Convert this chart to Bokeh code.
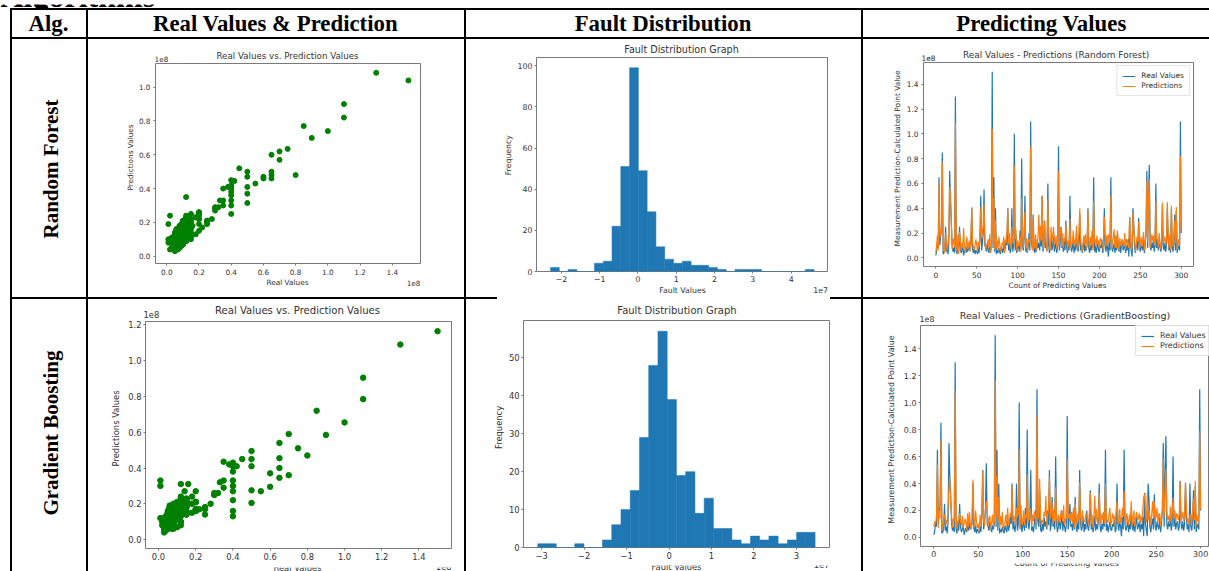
import numpy as np
from bokeh.plotting import figure
from bokeh.models import Range1d, FixedTicker, PrintfTickFormatter, Spacer, LinearAxis
from bokeh.layouts import row, column
from bokeh.core.properties import value
from bokeh.embed import file_html
from bokeh.resources import INLINE

# ---------------- texts ----------------
section_title = "Algorithms"
header_titles = ["Alg.", "Real Values & Prediction", "Fault Distribution", "Predicting Values"]
algorithm_names = ["Random Forest", "Gradient Boosting"]
scatter_title = "Real Values vs. Prediction Values"
hist_title = "Fault Distribution Graph"
line_titles = ["Real Values -  Predictions (Random Forest)",
               "Real Values -  Predictions (GradientBoosting)"]

# ---------------- data (units of 1e6) ----------------
real_values_1e6 = [
    2, 5, 12, 8, 65, 10, 18, 25, 85, 3,
    4, 6, 25, 5, 8, 3, 12, 70, 45, 30,
    10, 5, 8, 4, 130, 6, 3, 12, 5, 25,
    8, 4, 6, 10, 2, 5, 7, 4, 9, 5,
    12, 6, 8, 10, 40, 7, 4, 9, 3, 6,
    5, 3, 8, 4, 18, 50, 6, 12, 20, 55,
    10, 8, 5, 12, 7, 4, 9, 6, 10, 150,
    8, 65, 5, 40, 3, 6, 4, 8, 5, 3,
    9, 6, 4, 12, 5, 8, 15, 10, 40, 6,
    12, 4, 8, 40, 5, 10, 100, 6, 18, 4,
    8, 12, 5, 22, 7, 80, 10, 6, 15, 50,
    5, 8, 4, 10, 20, 6, 110, 12, 8, 35,
    6, 4, 10, 5, 15, 8, 12, 6, 20, 9,
    50, 5, 10, 30, 8, 12, 6, 60, 10, 4,
    8, 15, 6, 10, 20, 5, 12, 8, 4, 10,
    90, 6, 12, 25, 8, 10, 5, 15, 6, 30,
    8, 4, 12, 6, 50, 10, 5, 8, 15, 4,
    10, 6, 20, 8, 5, 12, 35, 6, 10, 4,
    8, 16, 5, 10, 6, 12, 40, 8, 4, 10,
    6, 15, 8, 65, 5, 10, 4, 8, 12, 6,
    5, 10, 8, 15, 4, 6, 40, 10, 5, 12,
    8, 1, 15, 6, 65, 10, 5, 8, 12, 4,
    10, 6, 20, 8, 5, 12, 4, 10, 15, 6,
    8, 12, 4, 10, 6, 15, 1, 33, 10, 5,
    1, 40, 28, 8, 4, 10, 14, 6, 32, 8,
    5, 12, 8, 6, 15, 4, 10, 20, 70, 8,
    50, 75, 10, 6, 12, 8, 15, 5, 10, 60,
    8, 15, 6, 10, 12, 5, 8, 42, 10, 6,
    12, 5, 10, 40, 15, 6, 10, 4, 40, 8,
    5, 12, 35, 6, 38, 4, 10, 8, 6, 110,
    20]

rf_predictions_1e6 = [
    4, 10, 18, 6, 60, 16, 23, 19, 77, 8,
    9, 4, 20, 13, 6, 11, 21, 57, 52, 28,
    7, 12, 16, 9, 108.5, 14, 5, 19, 3, 21,
    15, 6, 12, 8, 24, 11, 4, 10, 17, 7,
    9, 14, 5, 18, 41, 13, 8, 6, 10, 15,
    11, 5, 13, 9, 13, 41, 16, 22, 24, 43,
    16, 6, 10, 11, 15, 9, 19, 4, 8, 104,
    13, 48, 7, 30, 8, 14, 6, 17, 12, 5,
    7, 12, 10, 17, 4, 15, 12, 20, 40, 11,
    20, 9, 7, 25, 13, 11, 74, 15, 23, 6,
    14, 9, 11, 17, 5, 48, 18, 8, 20, 37,
    9, 16, 5, 14, 15, 12, 90, 22, 6, 33,
    13, 8, 19, 6, 12, 17, 35, 11, 26, 14,
    50, 12, 7, 29, 16, 10, 5, 47, 21, 9,
    6, 25, 14, 17, 25, 10, 13, 18, 7, 12,
    70, 11, 24, 21, 9, 20, 8, 16, 13, 27,
    17, 6, 14, 10, 31.5, 8, 13, 12, 22, 9,
    15, 12, 26, 7, 10, 21, 40, 16, 9, 5,
    12, 18, 11, 19, 7, 10, 38, 14, 8, 17,
    10, 22, 6, 46, 12, 15, 9, 18, 11, 14,
    7, 16, 13, 12, 10, 5, 33, 21, 9, 18,
    10, 19, 17, 12, 50, 7, 14, 16, 23, 8,
    18, 8, 22, 13, 6, 16, 11, 9, 14, 12,
    9, 20, 7, 15, 13, 10, 8, 33, 18, 6,
    10, 36, 22, 16, 5, 11, 17, 13, 29, 7,
    12, 17, 9, 15, 21, 6, 14, 19, 62, 13,
    47, 63.5, 8, 11, 19, 14, 18, 10, 16, 46,
    15, 13, 9, 20, 11, 7, 16, 44.5, 12, 14,
    17, 10, 14, 45, 20, 8, 19, 6, 42, 13,
    9, 16, 30, 12, 41, 7, 11, 15, 10, 82,
    22]

gb_predictions_1e6 = [
    8, 12, 10, 16, 54, 7, 20, 14, 72, 11,
    6, 15, 17, 10, 13, 9, 22, 36, 45, 25,
    16, 7, 14, 12, 109, 18, 6, 10, 13, 18,
    12, 9, 16, 7, 10, 14, 11, 5, 18, 8,
    19, 10, 6, 15, 43, 13, 8, 20, 12, 7,
    10, 4, 17, 9, 15, 49.5, 13, 8, 21, 27,
    20, 9, 14, 16, 6, 11, 17, 8, 12, 116.5,
    14, 45.5, 11, 30, 7, 16, 9, 19, 6, 10,
    11, 17, 8, 22, 9, 13, 18, 15, 38, 12,
    16, 13, 9, 22, 15, 18, 65.5, 7, 24, 10,
    12, 20, 9, 17, 14, 47, 11, 16, 21, 20.5,
    8, 17, 12, 19, 16, 10, 90.5, 23, 14, 43.5,
    15, 9, 13, 11, 19, 16, 31, 8, 17, 20,
    45, 14, 18, 26, 10, 21, 12, 37, 15, 9,
    17, 14, 11, 20, 17, 12, 24, 9, 13, 15,
    58.5, 16, 14, 18, 12, 19, 11, 22, 7, 25,
    15, 10, 18, 13, 41, 16, 8, 20, 14, 12,
    12, 18, 16, 13, 9, 20, 33, 11, 17, 7,
    16, 31, 12, 21, 9, 15, 33, 13, 10, 18,
    13, 19, 10, 40, 15, 12, 11, 17, 22, 9,
    12, 18, 14, 16, 8, 19, 27, 13, 10, 21,
    11, 12, 22, 16, 34.5, 14, 10, 18, 13, 9,
    17, 12, 27, 9, 14, 20, 8, 15, 19, 13,
    14, 18, 10, 16, 12, 21, 30, 32, 20, 11,
    33, 13, 20, 15, 9, 17, 27, 14, 26, 12,
    16, 22, 11, 17, 18, 8, 14, 21, 59, 15,
    27.5, 51, 19, 13, 16, 10, 23, 12, 18, 29.5,
    14, 20, 11, 18, 16, 13, 17, 41, 12, 15,
    19, 12, 16, 41, 22, 11, 14, 9, 16, 17,
    10, 20, 29, 13, 42, 8, 17, 12, 16, 78.5,
    21]

# fault histograms (counts per bin, bins spread evenly between min and max, units of 1e7)
rf_fault_counts = [2, 0, 1, 0, 0, 4, 5, 22, 51, 99, 49, 29, 12, 6, 4,
                   5, 3, 3, 2, 1, 0, 1, 1, 1, 0, 0, 0, 0, 0, 1]
rf_fault_min_max_1e7 = [-2.284, 4.60]
gb_fault_counts = [1, 1, 0, 0, 1, 0, 0, 2, 6, 10, 15, 29, 48, 57, 39,
                   19, 20, 9, 13, 5, 5, 2, 1, 3, 2, 3, 1, 2, 4, 4]
gb_fault_min_max_1e7 = [-3.094, 3.441]

# ticks
scatter_x_ticks = [0.0, 0.2, 0.4, 0.6, 0.8, 1.0, 1.2, 1.4]
rf_scatter_y_ticks = [0.0, 0.2, 0.4, 0.6, 0.8, 1.0]
gb_scatter_y_ticks = [0.0, 0.2, 0.4, 0.6, 0.8, 1.0, 1.2]
rf_hist_x_ticks = [-2, -1, 0, 1, 2, 3, 4]
rf_hist_x_labels = ["\u22122", "\u22121", "0", "1", "2", "3", "4"]
rf_hist_y_ticks = [0, 20, 40, 60, 80, 100]
gb_hist_x_ticks = [-3, -2, -1, 0, 1, 2, 3]
gb_hist_x_labels = ["\u22123", "\u22122", "\u22121", "0", "1", "2", "3"]
gb_hist_y_ticks = [0, 10, 20, 30, 40, 50]
line_x_ticks = [0, 50, 100, 150, 200, 250, 300]
line_y_ticks = [0.0, 0.2, 0.4, 0.6, 0.8, 1.0, 1.2, 1.4]

# ---------------- styling ----------------
FONT = "DejaVu Sans"
SERIF = "Liberation Serif"
AX = "#7a7a7a"
TXT = "#333333"
BLUE = "#1f77b4"
ORANGE = "#ff7f0e"
BLACK = {"background-color": "black"}
SMALL_STRIP_LIFT = 5  # very short text panels draw their texts a little low

n = min(len(real_values_1e6), len(rf_predictions_1e6), len(gb_predictions_1e6))
real_1e8 = np.array(real_values_1e6[:n], dtype=float) / 100.0
rf_1e8 = np.array(rf_predictions_1e6[:n], dtype=float) / 100.0
gb_1e8 = np.array(gb_predictions_1e6[:n], dtype=float) / 100.0
idx = np.arange(n)


def T(text, x, y, size, align="center", angle=0.0, font=FONT, style="normal", color=TXT):
    """A text placed by its centre-line anchor, given in page pixels."""
    return dict(text=text, x=x, y=y, size=size, align=align, angle=angle,
                font=font, style=style, color=color)


def strip(x0, y0, w, h, texts):
    """A plain white panel (page rect x0,y0,w,h) holding some texts."""
    if w <= 0 or h <= 0:
        return None
    if not texts:
        return Spacer(width=w, height=h)
    p = figure(width=w, height=h, x_range=Range1d(0, w), y_range=Range1d(0, h),
               output_backend="svg", toolbar_location=None,
               x_axis_type=None, y_axis_type=None, min_border=0)
    p.outline_line_color = None
    p.background_fill_color = "white"
    p.border_fill_color = "white"
    lift = SMALL_STRIP_LIFT if h < 12 else 0
    for t in texts:
        p.text(x=[t["x"] - x0], y=[(y0 + h) - t["y"] + lift], text=[t["text"]],
               text_font=value(t["font"]), text_font_size=value(f"{t['size']}px"),
               text_font_style=t["style"], text_align=t["align"], text_baseline="middle",
               angle=t["angle"], text_color=t["color"])
    return p


def chart(w, h, lft, rgt, top, bot, xr, yr, xticks, yticks, tick_px,
          xfmt=None, yfmt=None, xover=None, label_standoff=3):
    p = figure(width=w, height=h, x_range=Range1d(*xr), y_range=Range1d(*yr),
               output_backend="svg", toolbar_location=None,
               min_border_left=lft, min_border_right=rgt,
               min_border_top=top, min_border_bottom=bot)
    p.xgrid.visible = False
    p.ygrid.visible = False
    p.outline_line_color = AX
    p.outline_line_width = 1
    p.background_fill_color = "white"
    p.border_fill_color = "white"
    for ax in (p.xaxis[0], p.yaxis[0]):
        ax.axis_line_color = None
        ax.major_tick_line_color = AX
        ax.major_tick_out = 2
        ax.major_tick_in = 0
        ax.minor_tick_line_color = None
        ax.major_label_text_font = FONT
        ax.major_label_text_font_size = f"{tick_px}px"
        ax.major_label_text_color = TXT
        ax.major_label_standoff = label_standoff
    p.xaxis[0].ticker = FixedTicker(ticks=xticks)
    p.yaxis[0].ticker = FixedTicker(ticks=yticks)
    if xfmt:
        p.xaxis[0].formatter = PrintfTickFormatter(format=xfmt)
    if yfmt:
        p.yaxis[0].formatter = PrintfTickFormatter(format=yfmt)
    if xover:
        p.xaxis[0].major_label_overrides = xover
    return p


def cell(cell_rect, frame_rect, borders, build, top_texts, left_texts, bottom_texts):
    """Compose a table cell: text strips around a chart whose frame sits at frame_rect."""
    cx, cy, cw, ch = cell_rect
    fx, fy, fw, fh = frame_rect
    Lc, Rc, Tc, Bc = borders
    fl, ft = fx - cx, fy - cy
    mid_h = Tc + fh + Bc
    p = build(Lc + fw + Rc, mid_h, Lc, Rc, Tc, Bc)
    top = strip(cx, cy, cw, ft - Tc, top_texts)
    left = strip(cx, cy + ft - Tc, fl - Lc, mid_h, left_texts)
    right = strip(fx + fw + Rc, cy + ft - Tc, cw - fl - fw - Rc, mid_h, [])
    bottom = strip(cx, cy + ft + fh + Bc, cw, ch - ft - fh - Bc, bottom_texts)
    mid = row(*[m for m in (left, p, right) if m is not None])
    return column(*[m for m in (top, mid, bottom) if m is not None])


# ---------------- chart builders ----------------
def scatter_builder(yr, yticks, preds, tick_px, dot, standoff):
    def build(w, h, l, r, t, b):
        p = chart(w, h, l, r, t, b, (-0.07, 1.575), yr, scatter_x_ticks, yticks, tick_px,
                  xfmt="%.1f", yfmt="%.1f", label_standoff=standoff)
        p.scatter(real_1e8, preds, size=dot, color="green", marker="circle")
        return p
    return build


def hist_builder(xr, yr, counts, mm, xticks, xlabels, yticks, tick_px, standoff,
                 under=None, frame_x=None):
    def build(w, h, l, r, t, b):
        over = {tk: lb for tk, lb in zip(xticks, xlabels)}
        p = chart(w, h, l, r, t, b, xr, yr, xticks, yticks, tick_px, xover=over,
                  label_standoff=standoff)
        edges = np.linspace(mm[0], mm[1], len(counts) + 1)
        p.quad(left=edges[:-1], right=edges[1:], bottom=0, top=counts,
               fill_color=BLUE, line_color=BLUE, line_width=0.5)
        if under:
            # x-axis caption row ("Fault Values" and the 1e7 offset) drawn as a second, bare axis
            fx0, fw = frame_x
            scale = (xr[1] - xr[0]) / fw
            pos = [xr[0] + (px - fx0) * scale for _, px in under]
            ax2 = LinearAxis(ticker=FixedTicker(ticks=pos),
                             major_label_overrides={ps: tx for ps, (tx, _) in zip(pos, under)},
                             axis_line_color=None, major_tick_line_color=None,
                             minor_tick_line_color=None, major_tick_out=0, major_tick_in=0,
                             major_label_standoff=1, major_label_text_font=FONT,
                             major_label_text_font_size=f"{tick_px}px",
                             major_label_text_color=TXT)
            p.add_layout(ax2, "below")
        return p
    return build


def line_builder(xr, yr, preds, tick_px, legend_loc, standoff):
    def build(w, h, l, r, t, b):
        p = chart(w, h, l, r, t, b, xr, yr, line_x_ticks, line_y_ticks, tick_px,
                  yfmt="%.1f", label_standoff=standoff)
        p.line(idx, real_1e8, color=BLUE, line_width=1.2, legend_label="Real Values")
        p.line(idx, preds, color=ORANGE, line_width=1.2, legend_label="Predictions")
        lg = p.legend[0]
        lg.location = legend_loc
        lg.margin = 3
        lg.padding = 5
        lg.spacing = 1
        lg.glyph_width = 13
        lg.glyph_height = 8
        lg.label_height = 8
        lg.label_width = 10
        lg.label_standoff = 6
        lg.label_text_font = FONT
        lg.label_text_font_size = f"{tick_px}px"
        lg.label_text_color = TXT
        lg.border_line_color = "#cccccc"
        lg.background_fill_alpha = 0.8
        return p
    return build


YLAB = "Measurement Prediction-Calculated Point Value"
R90 = np.pi / 2

# row 1
sc1 = cell((88, 39, 376, 258), (154, 63, 266, 200), (19, 1, 1, 14),
           scatter_builder((-0.043, 1.140), rf_scatter_y_ticks, rf_1e8, 7.3, 5, 3),
           [T(scatter_title, 287, 55, 8.7), T("1e8", 154, 58, 7.3, align="left")],
           [T("Predictions Values", 130, 163, 7.3, angle=R90)],
           [T("Real Values", 287, 282, 7.3), T("1e8", 420, 282, 7.3, align="right")])

hi1 = cell((466, 39, 395, 258), (534, 57, 293, 217), (20, 1, 1, 23),
           hist_builder((-2.65, 4.95), (0, 104), rf_fault_counts, rf_fault_min_max_1e7,
                        rf_hist_x_ticks, rf_hist_x_labels, rf_hist_y_ticks, 7.8, 2,
                        under=[("Fault Values", 681), ("1e7", 820)], frame_x=(534, 293)),
           [T(hist_title, 681, 48.7, 9.6)],
           [T("Frequency", 508, 166, 7.8, angle=R90)],
           [])

ln1 = cell((863, 39, 346, 258), (921, 62, 272, 204), (18, 1, 1, 14),
           line_builder((-15, 315), (-0.07, 1.575), rf_1e8, 7.45, "top_right", 3),
           [T(line_titles[0], 1057, 54, 8.95), T("1e8", 921, 57, 7.45, align="left")],
           [T(YLAB, 896.7, 164, 7.45, angle=R90)],
           [T("Count of Predicting Values", 1057, 284.7, 7.45)])

# row 2 (their x captions run off the bottom of the page, as in the source)
sc2 = cell((88, 299, 376, 272), (143, 321, 308, 227), (18, 1, 1, 15),
           scatter_builder((-0.05, 1.219), gb_scatter_y_ticks, gb_1e8, 8.4, 5.5, 2),
           [T(scatter_title, 297, 310, 10.1), T("1e8", 143, 314, 8.4, align="left")],
           [T("Predictions Values", 115, 434.5, 8.4, angle=R90)],
           [T("Real Values", 297, 568.7, 8.4), T("1e8", 451, 567, 8.4, align="right")])

hi2 = cell((466, 299, 395, 272), (523, 320, 306, 227), (18, 1, 1, 15),
           hist_builder((-3.43, 3.78), (0, 59.85), gb_fault_counts, gb_fault_min_max_1e7,
                        gb_hist_x_ticks, gb_hist_x_labels, gb_hist_y_ticks, 8.35, 2),
           [T(hist_title, 676.5, 310.3, 10.0)],
           [T("Frequency", 498, 433.5, 8.35, angle=R90)],
           [T("Fault Values", 676, 568, 8.35), T("1e7", 829, 566, 8.35, align="right")])

ln2 = cell((863, 299, 346, 272), (918, 325, 291, 221), (18, 0, 1, 15),
           line_builder((-15, 310), (-0.067, 1.572), gb_1e8, 7.96, (215, 190), 2),
           [T(line_titles[1], 1066, 315.3, 9.55), T("1e8", 919, 318.7, 7.96, align="left")],
           [T(YLAB, 890.7, 435.5, 7.96, angle=R90)],
           [T("Count of Predicting Values", 1066, 566, 7.96)])

# ---------------- header & algorithm cells ----------------
HS = 22.8
hA = strip(12, 10, 74, 27, [T(header_titles[0], 48, 22.5, HS, font=SERIF, style="bold", color="black")])
hB = strip(88, 10, 376, 27, [T(header_titles[1], 275, 22.5, HS, font=SERIF, style="bold", color="black")])
hC = strip(466, 10, 395, 27, [T(header_titles[2], 662.5, 22.5, HS, font=SERIF, style="bold", color="black")])
hD = strip(863, 10, 346, 27, [T(header_titles[3], 1041, 22.5, HS, font=SERIF, style="bold", color="black")])

lab1 = strip(12, 39, 74, 258, [T(algorithm_names[0], 50, 168.5, 21, angle=R90, font=SERIF,
                                 style="bold", color="black")])
lab2 = strip(12, 299, 74, 272, [T(algorithm_names[1], 50, 432.5, 21, angle=R90, font=SERIF,
                                  style="bold", color="black")])

# section heading, mostly above the visible page (only the lower edge of its letters shows)
top_band = strip(0, 0, 1209, 8, [T(section_title, 0, -3.5, 32, align="left", font=SERIF,
                                   style="bold", color="black")])

# ---------------- table layout ----------------
col_w = [74, 376, 395, 346]
LW = 2
total_w = LW * 4 + sum(col_w)


def hline():
    return Spacer(width=total_w, height=LW, styles=BLACK)


def broken_hline():
    # the divider under row 1 is hidden beneath the middle histogram picture
    return row(Spacer(width=487, height=LW, styles=BLACK),
               Spacer(width=333, height=LW),
               Spacer(width=total_w - 487 - 333, height=LW, styles=BLACK))


def vline(h):
    return Spacer(width=LW, height=h, styles=BLACK)


header_row = row(vline(27), hA, vline(27), hB, vline(27), hC, vline(27), hD)
row1 = row(vline(258), lab1, vline(258), sc1, vline(258), hi1, vline(258), ln1)
row2 = row(vline(272), lab2, vline(272), sc2, vline(272), hi2, vline(272), ln2)
table = column(hline(), header_row, hline(), row1, broken_hline(), row2)
page = column(top_band, row(Spacer(width=10, height=563), table))

open("out.html", "w").write(file_html(page, INLINE))
